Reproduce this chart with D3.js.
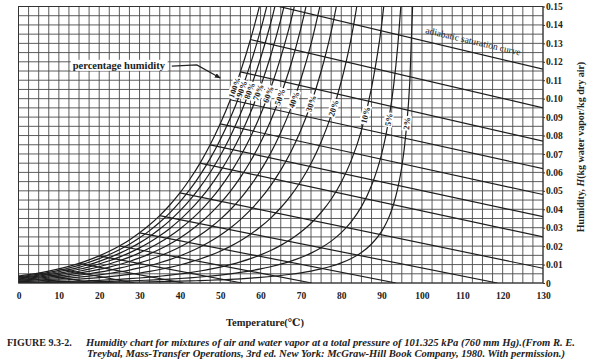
<!DOCTYPE html>
<html>
<head>
<meta charset="utf-8">
<script src="https://cdn.jsdelivr.net/npm/d3@7"></script>
<style>
  body { margin: 0; background: #fff; }
  text { font-family: "Liberation Serif", "DejaVu Serif", serif; fill: #222; }
</style>
</head>
<body>
<div id="chart"></div>
<script>
// saturation humidity (100% curve)
var temps = [0, 2.5, 5, 7.5, 10, 12.5, 15, 17.5, 20, 22.5, 25, 27.5, 30, 32.5, 35, 37.5, 40, 42.5, 45, 47.5,
    50, 52.5, 55, 57.5, 60, 62.5, 65, 67.5, 70, 72.5, 75, 77.5, 80, 82.5, 85, 87.5, 90, 91, 92, 93, 94, 95, 96, 97, 98]
var satHum = [0.00378, 0.00452, 0.00540, 0.00644, 0.00763, 0.00903, 0.01065, 0.01252, 0.01470, 0.01720,
    0.02008, 0.02338, 0.02721, 0.03157, 0.03658, 0.04231, 0.04889, 0.05642, 0.06505, 0.07496,
    0.08633, 0.09940, 0.11455, 0.13210, 0.15239, 0.17613, 0.20406, 0.23682, 0.27662, 0.32410,
    0.38245, 0.45452, 0.54652, 0.66645, 0.82833, 1.0584, 1.3991, 1.5913, 1.8346, 2.1489,
    2.5748, 3.1463, 4.038, 5.482, 8.479]
var percents = [100, 90, 80, 70, 60, 50, 40, 30, 20, 10, 5, 2]

// adiabatic saturation lines: start temp on the 100% curve, end point
var adiaStart = [0, 5, 10, 15, 20, 25, 30, 35, 40, 45, 47.5, 50, 52.5, 55, 57.5, 60]
var adiaEndT = [9.4, 18.3, 28.7, 40.9, 55.4, 72.7, 93.6, 118.7, 130, 130, 130, 130, 130, 130, 130, 130]
var adiaEndH = [0, 0, 0, 0, 0, 0, 0, 0, 0.008, 0.025, 0.036, 0.048, 0.062, 0.077, 0.095, 0.116]

var tempTicks = [0, 10, 20, 30, 40, 50, 60, 70, 80, 90, 100, 110, 120, 130]
var humTicks = [0, 0.01, 0.02, 0.03, 0.04, 0.05, 0.06, 0.07, 0.08, 0.09, 0.10, 0.11, 0.12, 0.13, 0.14, 0.15]

width = 594
height = 364
var svg = d3.select("#chart").append("svg")
    .attr("width", width).attr("height", height)

var x = d3.scaleLinear().domain([0, 130]).range([18.5, 543])
var y = d3.scaleLinear().domain([0, 0.15]).range([283, 6.5])

svg.append("defs").append("clipPath").attr("id", "plotClip")
    .append("rect")
    .attr("x", x(0)).attr("y", y(0.15))
    .attr("width", x(130) - x(0)).attr("height", y(0) - y(0.15))

// grid, 2.5 C by 0.005
var grid = svg.append("g").attr("stroke", "#4a4a4a").attr("stroke-width", 0.9)
grid.selectAll("line.v")
    .data(d3.range(0, 130.01, 2.5))
    .enter().append("line")
    .attr("x1", d => x(d)).attr("x2", d => x(d))
    .attr("y1", y(0)).attr("y2", y(0.15))
grid.selectAll("line.h")
    .data(d3.range(0, 30.01, 1).map(i => i * 0.005))
    .enter().append("line")
    .attr("x1", x(0)).attr("x2", x(130))
    .attr("y1", d => y(d)).attr("y2", d => y(d))

var plot = svg.append("g").attr("clip-path", "url(#plotClip)")

// percentage humidity curves
var line = d3.line()
    .x(d => x(d[0])).y(d => y(d[1]))
    .curve(d3.curveMonotoneX)

function curvePoints(pct) {
    var pts = []
    for (var i = 0; i < temps.length; i++) {
        var h = satHum[i] * pct / 100
        pts.push([temps[i], h])
        if (h > 0.15) break
    }
    return pts
}

var curves = plot.selectAll("path.pct")
    .data(percents)
    .enter().append("path")
    .attr("class", "pct")
    .attr("d", d => line(curvePoints(d)))
    .attr("fill", "none")
    .attr("stroke", "#1e1e1e")
    .attr("stroke-width", 1.2)

// adiabatic lines
plot.selectAll("line.adia")
    .data(adiaStart)
    .enter().append("line")
    .attr("x1", d => x(d))
    .attr("y1", d => y(satHum[temps.indexOf(d)]))
    .attr("x2", (d, i) => x(adiaEndT[i]))
    .attr("y2", (d, i) => y(adiaEndH[i]))
    .attr("stroke", "#1e1e1e")
    .attr("stroke-width", 1.2)

// frame
svg.append("rect")
    .attr("x", x(0)).attr("y", y(0.15))
    .attr("width", x(130) - x(0)).attr("height", y(0) - y(0.15))
    .attr("fill", "none").attr("stroke", "#333").attr("stroke-width", 1)

// axes
var bottomAxis = svg.append("g")
    .attr("transform", "translate(0," + y(0) + ")")
    .call(d3.axisBottom(x).tickValues(tempTicks).tickSize(0).tickPadding(9))
bottomAxis.select(".domain").remove()
bottomAxis.selectAll("text")
    .style("font-size", "9.5px").style("font-weight", "bold")
    .attr("font-family", null)

var rightAxis = svg.append("g")
    .attr("transform", "translate(" + x(130) + ",0)")
    .call(d3.axisRight(y).tickValues(humTicks).tickSize(2).tickPadding(1)
        .tickFormat(d => d == 0 ? "0" : d3.format(".2f")(d)))
rightAxis.select(".domain").remove()
rightAxis.selectAll("line").attr("stroke", "#333")
rightAxis.selectAll("text")
    .style("font-size", "9.5px").style("font-weight", "bold")
    .attr("font-family", null)

// percentage labels along a guide line
var guide = [[51, 0.107], [95, 0.087]]
function guideH(t) {
    return guide[0][1] + (t - guide[0][0]) * (guide[1][1] - guide[0][1]) / (guide[1][0] - guide[0][0])
}
curves.each(function (pct) {
    var node = this
    var total = node.getTotalLength()
    var l = 0
    for (; l < total; l += 0.5) {
        var p = node.getPointAtLength(l)
        if (p.y <= y(guideH(x.invert(p.x)))) break
    }
    var p = node.getPointAtLength(l)
    var a = node.getPointAtLength(Math.max(0, l - 4))
    var b = node.getPointAtLength(Math.min(total, l + 4))
    var ang = Math.atan2(b.y - a.y, b.x - a.x) * 180 / Math.PI
    var g = svg.append("g").attr("transform", "translate(" + p.x + "," + p.y + ") rotate(" + ang + ")")
    var bg = g.append("rect").attr("fill", "#fff")
    var t = g.append("text")
        .attr("text-anchor", "middle").attr("dy", "0.33em")
        .style("font-size", "8.5px").style("font-weight", "bold")
        .text(pct + "%")
    var bb = t.node().getBBox()
    bg.attr("x", bb.x - 1).attr("y", bb.y + 0.5).attr("width", bb.width + 2).attr("height", bb.height - 1)
})

// "percentage humidity" annotation
var ph = svg.append("g")
var phText = ph.append("text")
    .attr("x", x(36.3)).attr("y", y(0.1162))
    .attr("text-anchor", "end")
    .style("font-size", "10.5px").style("font-weight", "bold")
    .text("percentage humidity")
var pb = phText.node().getBBox()
ph.insert("rect", "text").attr("fill", "#fff")
    .attr("x", pb.x - 2).attr("y", pb.y).attr("width", pb.width + 4).attr("height", pb.height)

svg.append("defs").append("marker")
    .attr("id", "arrow").attr("viewBox", "0 0 10 10")
    .attr("refX", 9).attr("refY", 5)
    .attr("markerWidth", 5).attr("markerHeight", 5)
    .attr("orient", "auto")
    .append("path").attr("d", "M0,1 L10,5 L0,9 Z").attr("fill", "#222")
svg.append("path")
    .attr("d", d3.line().x(d => x(d[0])).y(d => y(d[1]))([[38.0, 0.1177], [44.2, 0.1183], [50.0, 0.1112]]))
    .attr("fill", "none").attr("stroke", "#222").attr("stroke-width", 1.2)
    .attr("marker-end", "url(#arrow)")

// "adiabatic saturation curve" text along the top line
var last = adiaStart.length - 1
var ax1 = x(adiaStart[last]), ay1 = y(satHum[temps.indexOf(adiaStart[last])])
var ax2 = x(adiaEndT[last]), ay2 = y(adiaEndH[last])
var aAng = Math.atan2(ay2 - ay1, ax2 - ax1) * 180 / Math.PI
svg.append("text")
    .attr("transform", "translate(" + x(112.5) + "," + y(0.1295) + ") rotate(" + aAng + ")")
    .attr("text-anchor", "middle")
    .style("font-size", "9.5px")
    .style("fill", "#222")
    .text("adiabatic saturation curve")

// axis titles
svg.append("text")
    .attr("x", 265).attr("y", 326)
    .attr("text-anchor", "middle")
    .style("font-size", "10.5px").style("font-weight", "bold")
    .text("Temperature(℃)")

var yt = svg.append("text")
    .attr("transform", "translate(584,147) rotate(-90)")
    .attr("text-anchor", "middle")
    .style("font-size", "10px").style("font-weight", "bold")
yt.append("tspan").text("Humidity, ")
yt.append("tspan").style("font-style", "italic").text("H")
yt.append("tspan").text("(kg water vapor/kg dry air)")

// caption
var cap = svg.append("text").attr("x", 7).attr("y", 346)
    .style("font-size", "10px").style("font-weight", "bold")
cap.append("tspan").text("FIGURE 9.3-2.")
cap.append("tspan").attr("x", 86).style("font-style", "italic")
    .attr("textLength", 489).attr("lengthAdjust", "spacingAndGlyphs")
    .text("Humidity chart for mixtures of air and water vapor at a total pressure of 101.325 kPa (760 mm Hg).(From R. E.")
svg.append("text").attr("x", 87).attr("y", 357)
    .style("font-size", "10px").style("font-weight", "bold").style("font-style", "italic")
    .attr("textLength", 478).attr("lengthAdjust", "spacingAndGlyphs")
    .text("Treybal, Mass-Transfer Operations, 3rd ed. New York: McGraw-Hill Book Company, 1980. With permission.)")
</script>
</body>
</html>
